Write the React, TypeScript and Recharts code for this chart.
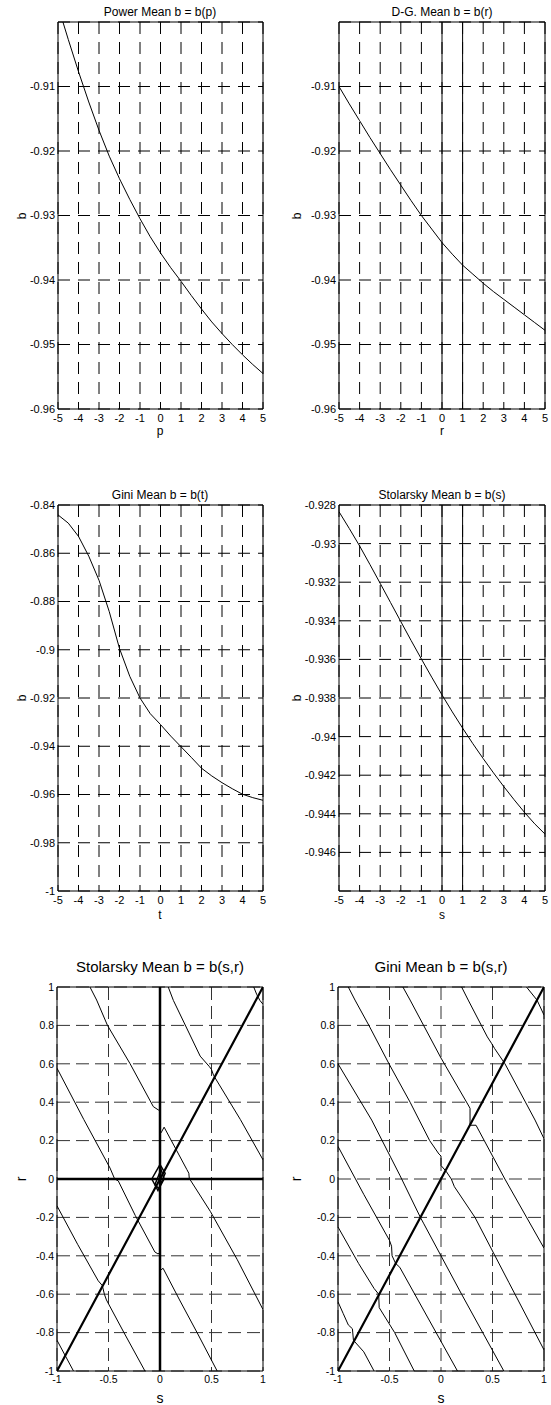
import React from 'react';
import { LineChart, Line, XAxis, YAxis, CartesianGrid, ReferenceLine, ReferenceArea } from 'recharts';

const FONT = '"Liberation Sans", Arial, Helvetica, sans-serif';

// ---- 1-D curves, sampled every 0.5 on [-5, 5] ----
const xSteps = [-5, -4.5, -4, -3.5, -3, -2.5, -2, -1.5, -1, -0.5, 0, 0.5, 1, 1.5, 2, 2.5, 3, 3.5, 4, 4.5, 5];
const xTicks1d = [-5, -4, -3, -2, -1, 0, 1, 2, 3, 4, 5];

const powerMeanB = [-0.8975, -0.9027, -0.9077, -0.9124, -0.9168, -0.9208, -0.9243, -0.9275, -0.9305, -0.9333, -0.9358,
  -0.9381, -0.9402, -0.9424, -0.9445, -0.9465, -0.9483, -0.95, -0.9516, -0.9531, -0.9545];
const dgMeanB = [-0.91, -0.9127, -0.9153, -0.9179, -0.9204, -0.9229, -0.9253, -0.9277, -0.93, -0.9321, -0.9342,
  -0.936, -0.9377, -0.9391, -0.9405, -0.9418, -0.943, -0.9442, -0.9454, -0.9466, -0.9478];
const giniMeanB = [-0.8441, -0.8475, -0.853, -0.8612, -0.8712, -0.8842, -0.8995, -0.911, -0.92, -0.9265, -0.931,
  -0.9358, -0.9402, -0.9446, -0.9491, -0.9523, -0.9551, -0.9576, -0.9599, -0.9613, -0.9624];
const stolMeanB = [-0.92835, -0.92922, -0.93012, -0.93108, -0.93206, -0.93305, -0.93404, -0.93502, -0.93598, -0.93692, -0.93784,
  -0.93872, -0.93956, -0.94037, -0.94114, -0.94188, -0.94259, -0.94327, -0.94392, -0.94452, -0.94505];

const topRowYTicks = [-0.96, -0.95, -0.94, -0.93, -0.92, -0.91];
const giniYTicks = [-1, -0.98, -0.96, -0.94, -0.92, -0.9, -0.88, -0.86, -0.84];
const stolYTicks = [-0.946, -0.944, -0.942, -0.94, -0.938, -0.936, -0.934, -0.932, -0.93, -0.928];

// ---- contour lines, [s, r] pairs ----
const sTicks2d = [-1, -0.5, 0, 0.5, 1];
const rTicks2d = [-1, -0.8, -0.6, -0.4, -0.2, 0, 0.2, 0.4, 0.6, 0.8, 1];
const diagonal = [[-1, -1], [-0.5, -0.5], [0, 0], [0.5, 0.5], [1, 1]];

const stolA = [[-0.68, 1], [-0.615, 0.932], [-0.51, 0.8], [-0.29, 0.6], [-0.065, 0.377], [-0.017, 0.36], [0, 0.355]];
const stolB = [[0.08, 1], [0.13, 0.93], [0.39, 0.64], [0.48, 0.585], [0.5, 0.57], [0.52, 0.54], [0.78, 0.31], [1, 0.1]];
const stolC = [[0.91, 1], [0.94, 0.96], [0.97, 0.93], [1, 0.91]];
const stolD = [[-1, 0.577], [-0.74, 0.31], [-0.485, 0.057], [-0.44, 0], [-0.405, -0.01], [-0.24, -0.19], [-0.05, -0.38], [-0.02, -0.39], [0, -0.385]];
const stolE = [[0.01, 0.24], [0.04, 0.27], [0.16, 0.15], [0.26, 0.05], [0.28, 0.03], [0.285, 0], [0.3, -0.01], [0.49, -0.17], [0.75, -0.42], [1, -0.68]];
const stolF = [[0.005, -0.475], [0.03, -0.465], [0.19, -0.63], [0.36, -0.8], [0.555, -1]];
const stolG = [[-1, -0.14], [-0.8, -0.34], [-0.6, -0.53], [-0.56, -0.555], [-0.54, -0.6], [-0.52, -0.63], [-0.35, -0.8], [-0.146, -1]];
const stolH = [[-1, -0.84], [-0.92, -0.92], [-0.84, -1]];
const stolLoop1 = [[-0.08, 0], [0, 0.075], [0.05, 0.03], [-0.02, -0.06], [-0.08, 0]];
const stolLoop2 = [[-0.05, -0.03], [0.01, 0.05], [0.04, 0], [-0.01, -0.05], [-0.05, -0.03]];

const giniA = [[-0.9, 1], [-0.835, 0.932], [-0.7, 0.8], [-0.505, 0.6], [-0.3, 0.4], [-0.11, 0.2], [-0.02, 0.13], [0, 0.12], [0, 0.07],
  [0.05, 0.04], [0.1, 0], [0.13, -0.04], [0.33, -0.2], [0.66, -0.54], [1, -0.89]];
const giniB = [[-0.37, 1], [-0.3, 0.932], [0, 0.63], [0.27, 0.38], [0.282, 0.368], [0.282, 0.28], [0.34, 0.28], [0.62, 0], [1, -0.36]];
const giniC = [[0.2, 1], [0.264, 0.932], [0.45, 0.74], [0.49, 0.707], [0.52, 0.68], [0.621, 0.6], [0.913, 0.307], [1, 0.21]];
const giniD = [[0.83, 1], [0.932, 0.932], [1, 0.854]];
const giniE = [[-1, 0.6], [-0.673, 0.307], [-0.4, 0.02], [-0.2, -0.2], [-0.17, -0.23], [-0.15, -0.25], [0.2, -0.6], [0.61, -1]];
const giniF = [[-1, 0.17], [-0.75, -0.08], [-0.5, -0.32], [-0.48, -0.35], [-0.475, -0.4], [-0.44, -0.44], [-0.4, -0.46], [0.16, -1]];
const giniG = [[-1, -0.25], [-0.8, -0.44], [-0.65, -0.57], [-0.605, -0.6], [-0.6, -0.67], [-0.45, -0.8], [-0.26, -1]];
const giniH = [[-1, -0.64], [-0.95, -0.7], [-0.9, -0.76], [-0.86, -0.78], [-0.85, -0.84], [-0.75, -0.9], [-0.65, -1]];

type Pt = { x: number; y: number };
type Series = { pts: Pt[]; w: number };

const curve = (ys: number[]): Pt[] => xSteps.map((x, i) => ({ x, y: ys[i] }));
const pairs = (arr: number[][]): Pt[] => arr.map(([x, y]) => ({ x, y }));

interface PlotProps {
  left: number;
  top: number;
  width: number;
  height: number;
  mTop: number;
  mRight: number;
  yw: number;
  xh: number;
  xDomain: [number, number];
  xTicks: number[];
  yDomain: [number, number];
  yTicks: number[];
  dash: string;
  gridColor: string;
  fontSize: number;
  series: Series[];
  vLines?: number[];
  hLines?: number[];
  refWidth?: number;
}

function Plot(p: PlotProps) {
  const tick = { fill: '#000', fontSize: p.fontSize };
  return (
    <div style={{ position: 'absolute', left: p.left, top: p.top }}>
      <LineChart width={p.width} height={p.height} margin={{ top: p.mTop, right: p.mRight, bottom: 0, left: 0 }}>
        <CartesianGrid stroke={p.gridColor} strokeDasharray={p.dash} />
        <XAxis dataKey="x" type="number" domain={p.xDomain} ticks={p.xTicks} interval={0} allowDataOverflow
          tickLine={false} axisLine={false} tickSize={0} tickMargin={5} height={p.xh} tick={tick} />
        <YAxis type="number" domain={p.yDomain} ticks={p.yTicks} interval={0} allowDataOverflow
          tickLine={false} axisLine={false} tickSize={0} tickMargin={3} width={p.yw} tick={tick} />
        {(p.vLines || []).map((v) => (
          <ReferenceLine key={`v${v}`} x={v} stroke="#000" strokeWidth={p.refWidth || 1} />
        ))}
        {(p.hLines || []).map((v) => (
          <ReferenceLine key={`h${v}`} y={v} stroke="#000" strokeWidth={p.refWidth || 1} />
        ))}
        {p.series.map((s, i) => (
          <Line key={i} data={s.pts} dataKey="y" type="linear" stroke="#000" strokeWidth={s.w}
            dot={false} activeDot={false} isAnimationActive={false} />
        ))}
        <ReferenceArea x1={p.xDomain[0]} x2={p.xDomain[1]} y1={p.yDomain[0]} y2={p.yDomain[1]}
          fill="none" fillOpacity={0} stroke="#000" strokeWidth={1} ifOverflow="visible" />
      </LineChart>
    </div>
  );
}

function Label({ x, y, size, text, rotate }: { x: number; y: number; size: number; text: string; rotate?: boolean }) {
  return (
    <div
      style={{
        position: 'absolute',
        left: x - 150,
        top: y - (size + 2) / 2,
        width: 300,
        height: size + 2,
        lineHeight: `${size + 2}px`,
        fontSize: size,
        textAlign: 'center',
        whiteSpace: 'nowrap',
        transform: rotate ? 'rotate(-90deg)' : undefined,
      }}
    >
      {text}
    </div>
  );
}

export default function App() {
  const topDash = '12 8';
  const botDash = '13 6';
  return (
    <div style={{ position: 'absolute', left: 0, top: 0, width: 551, height: 1405, background: '#fff', fontFamily: FONT, color: '#000' }}>
      {/* row 1 */}
      <Plot left={0} top={0} width={275} height={440} mTop={22} mRight={12} yw={58} xh={31}
        xDomain={[-5, 5]} xTicks={xTicks1d} yDomain={[-0.96, -0.9]} yTicks={topRowYTicks} fontSize={11}
        dash={topDash} gridColor="#000" series={[{ pts: curve(powerMeanB), w: 1 }]} />
      <Plot left={275} top={0} width={276} height={440} mTop={22} mRight={6} yw={64} xh={31}
        xDomain={[-5, 5]} xTicks={xTicks1d} yDomain={[-0.96, -0.9]} yTicks={topRowYTicks} fontSize={11}
        dash={topDash} gridColor="#000" vLines={[0, 1]} series={[{ pts: curve(dgMeanB), w: 1 }]} />

      {/* row 2 */}
      <Plot left={0} top={480} width={275} height={440} mTop={25} mRight={12} yw={58} xh={29}
        xDomain={[-5, 5]} xTicks={xTicks1d} yDomain={[-1, -0.84]} yTicks={giniYTicks} fontSize={11}
        dash={topDash} gridColor="#000" series={[{ pts: curve(giniMeanB), w: 1 }]} />
      <Plot left={275} top={480} width={276} height={440} mTop={25} mRight={6} yw={64} xh={29}
        xDomain={[-5, 5]} xTicks={xTicks1d} yDomain={[-0.948, -0.928]} yTicks={stolYTicks} fontSize={11}
        dash={topDash} gridColor="#000" vLines={[0, 1]} series={[{ pts: curve(stolMeanB), w: 1 }]} />

      {/* row 3 */}
      <Plot left={0} top={960} width={275} height={445} mTop={27} mRight={12} yw={57} xh={34}
        xDomain={[-1, 1]} xTicks={sTicks2d} yDomain={[-1, 1]} yTicks={rTicks2d} fontSize={10.5}
        dash={botDash} gridColor="#333" vLines={[0]} hLines={[0]} refWidth={2.5}
        series={[
          { pts: pairs(stolA), w: 1 }, { pts: pairs(stolB), w: 1 }, { pts: pairs(stolC), w: 1 },
          { pts: pairs(stolD), w: 1 }, { pts: pairs(stolE), w: 1 }, { pts: pairs(stolF), w: 1 },
          { pts: pairs(stolG), w: 1 }, { pts: pairs(stolH), w: 1 },
          { pts: pairs(stolLoop1), w: 1.5 }, { pts: pairs(stolLoop2), w: 1.5 },
          { pts: pairs(diagonal), w: 2.2 },
        ]} />
      <Plot left={275} top={960} width={276} height={445} mTop={27} mRight={7} yw={63} xh={34}
        xDomain={[-1, 1]} xTicks={sTicks2d} yDomain={[-1, 1]} yTicks={rTicks2d} fontSize={10.5}
        dash={botDash} gridColor="#333"
        series={[
          { pts: pairs(giniA), w: 1 }, { pts: pairs(giniB), w: 1 }, { pts: pairs(giniC), w: 1 },
          { pts: pairs(giniD), w: 1 }, { pts: pairs(giniE), w: 1 }, { pts: pairs(giniF), w: 1 },
          { pts: pairs(giniG), w: 1 }, { pts: pairs(giniH), w: 1 },
          { pts: pairs(diagonal), w: 2.2 },
        ]} />

      {/* titles */}
      <Label x={160} y={12} size={12} text="Power Mean b = b(p)" />
      <Label x={442} y={12} size={12} text="D-G. Mean b = b(r)" />
      <Label x={160} y={495} size={12} text="Gini Mean b = b(t)" />
      <Label x={442} y={495} size={12} text="Stolarsky Mean b = b(s)" />
      <Label x={160} y={966} size={15} text="Stolarsky Mean b = b(s,r)" />
      <Label x={441} y={966} size={15} text="Gini Mean b = b(s,r)" />

      {/* axis labels */}
      <Label x={160} y={431} size={12} text="p" />
      <Label x={442} y={431} size={12} text="r" />
      <Label x={22} y={216} size={12} text="b" rotate />
      <Label x={297} y={216} size={12} text="b" rotate />
      <Label x={160} y={915} size={12} text="t" />
      <Label x={442} y={915} size={12} text="s" />
      <Label x={22} y={698} size={12} text="b" rotate />
      <Label x={297} y={698} size={12} text="b" rotate />
      <Label x={160} y={1398} size={14} text="s" />
      <Label x={441} y={1398} size={14} text="s" />
      <Label x={21} y={1179} size={14} text="r" rotate />
      <Label x={296} y={1179} size={14} text="r" rotate />
    </div>
  );
}
